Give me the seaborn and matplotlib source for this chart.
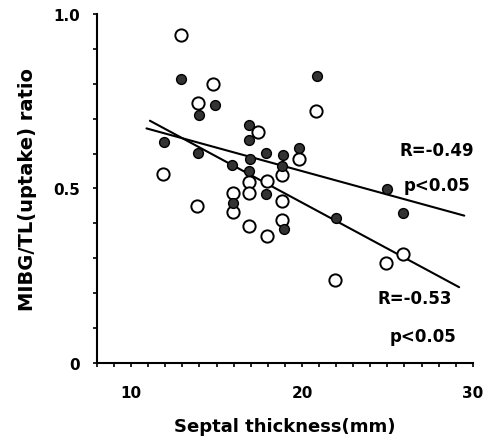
import matplotlib
matplotlib.use("Agg")
import matplotlib.pyplot as plt
import numpy as np
import pandas as pd
import seaborn as sns
from matplotlib.ticker import MultipleLocator, FixedLocator

# Filled circles (group with R=-0.49)
filled_x = [12.9, 14.9, 13.95, 11.95, 13.9, 16.9, 16.9, 15.9, 17.9, 18.9, 16.95,
            18.85, 16.9, 19.85, 17.9, 20.9, 25.0, 25.9, 22.0, 18.95, 15.95]
filled_y = [0.814, 0.739, 0.711, 0.632, 0.601, 0.683, 0.639, 0.567, 0.602, 0.596, 0.584,
            0.565, 0.549, 0.617, 0.484, 0.823, 0.497, 0.430, 0.414, 0.384, 0.458]

# Open circles (group with R=-0.53)
open_x = [12.9, 14.8, 13.9, 17.4, 11.85, 19.85, 18.85, 16.9, 17.95, 15.95, 16.9,
          20.85, 25.9, 24.9, 21.95, 18.85, 18.85, 13.85, 15.95, 16.9, 17.95]
open_y = [0.940, 0.798, 0.744, 0.661, 0.540, 0.585, 0.539, 0.518, 0.521, 0.487, 0.486,
          0.721, 0.313, 0.285, 0.238, 0.463, 0.410, 0.449, 0.432, 0.393, 0.363]

# Regression line endpoints as drawn
fit_filled_x = [10.9, 29.5]
fit_filled_y = [0.672, 0.422]
fit_open_x = [11.1, 29.2]
fit_open_y = [0.694, 0.217]

sns.set_style("ticks")
plt.rcParams["font.family"] = ["DejaVu Sans"]
plt.rcParams["text.color"] = "black"
plt.rcParams["axes.labelcolor"] = "black"
plt.rcParams["xtick.color"] = "black"
plt.rcParams["ytick.color"] = "black"
plt.rcParams["axes.edgecolor"] = "black"

fig = plt.figure(figsize=(4.92, 4.39), dpi=100)
ax = fig.add_axes([0.197, 0.171, 0.764, 0.795])

df_filled = pd.DataFrame({"x": filled_x, "y": filled_y})
df_open = pd.DataFrame({"x": open_x, "y": open_y})

sns.lineplot(x=fit_filled_x, y=fit_filled_y, color="black", linewidth=1.5, ax=ax)
sns.lineplot(x=fit_open_x, y=fit_open_y, color="black", linewidth=1.5, ax=ax)

sns.scatterplot(data=df_open, x="x", y="y", s=78, facecolor="white",
                edgecolor="black", linewidth=1.4, ax=ax, zorder=3)
sns.scatterplot(data=df_filled, x="x", y="y", s=50, color="#333333",
                edgecolor="black", linewidth=1.0, ax=ax, zorder=4)

ax.set_xlim(8, 30)
ax.set_ylim(0, 1.0)
ax.xaxis.set_major_locator(FixedLocator([10, 20, 30]))
ax.xaxis.set_minor_locator(MultipleLocator(1))
ax.yaxis.set_major_locator(FixedLocator([0, 0.5, 1.0]))
ax.yaxis.set_minor_locator(MultipleLocator(0.1))
ax.set_yticklabels(["0", "0.5", "1.0"])
ax.tick_params(axis="both", which="both", length=3, width=1.2, direction="out",
               labelsize=11, pad=13)
ax.tick_params(axis="y", pad=9)
for lbl in ax.get_xticklabels() + ax.get_yticklabels():
    lbl.set_fontweight("bold")

sns.despine(ax=ax)
ax.spines["left"].set_linewidth(1.5)
ax.spines["bottom"].set_linewidth(1.5)

ax.set_xlabel("Septal thickness(mm)", fontsize=13, fontweight="bold", labelpad=12)
ax.set_ylabel("MIBG/TL(uptake) ratio", fontsize=14, fontweight="bold", labelpad=12)

ax.text(27.9, 0.609, "R=-0.49", fontsize=12, fontweight="bold", ha="center", va="center")
ax.text(27.9, 0.511, "p<0.05", fontsize=12, fontweight="bold", ha="center", va="center")
ax.text(26.6, 0.185, "R=-0.53", fontsize=12, fontweight="bold", ha="center", va="center")
ax.text(27.1, 0.078, "p<0.05", fontsize=12, fontweight="bold", ha="center", va="center")

fig.savefig("out.png", dpi=100)
